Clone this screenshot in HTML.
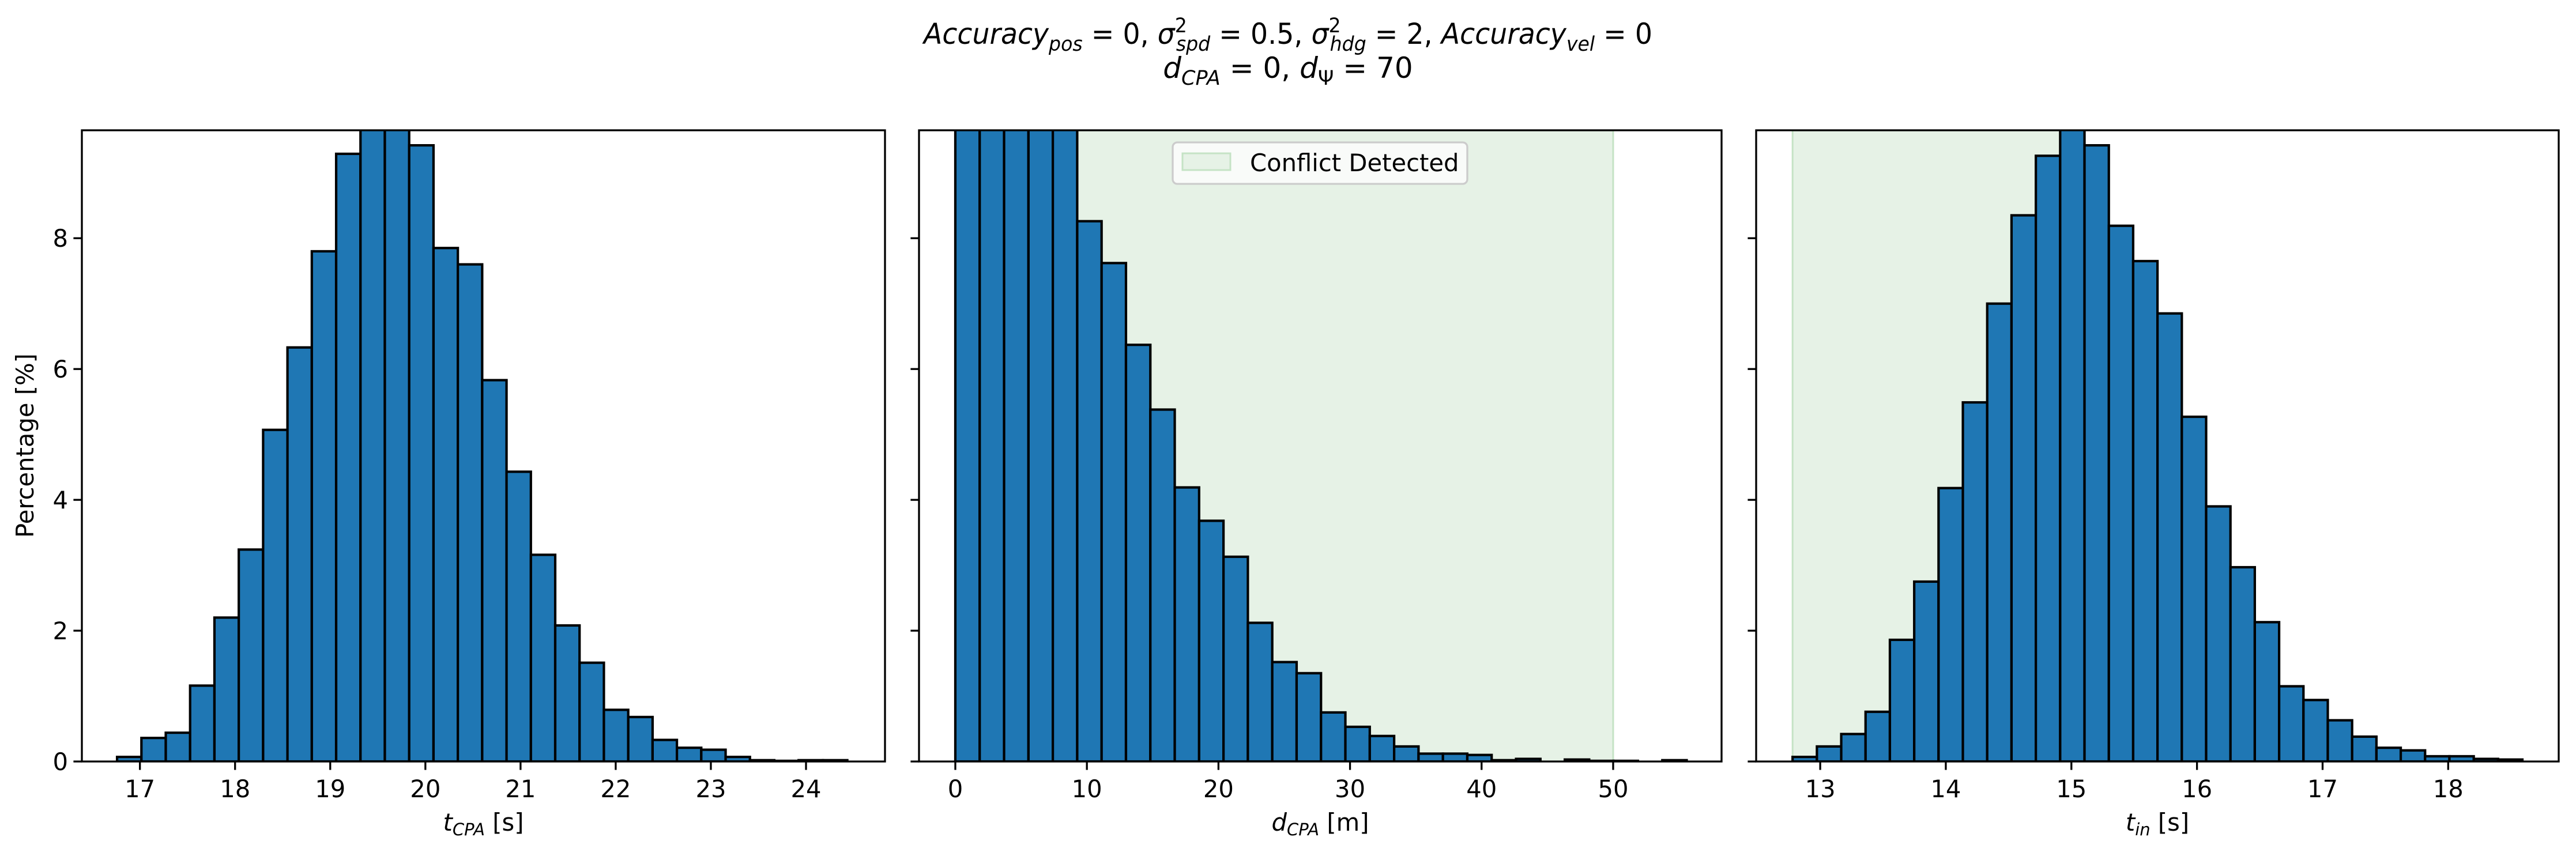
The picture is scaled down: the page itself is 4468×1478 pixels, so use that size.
<!DOCTYPE html>
<html><head><meta charset="utf-8">
<style>
html,body{margin:0;padding:0;background:#fff;}
svg{display:block;font-family:"DejaVu Sans","Liberation Sans",sans-serif;}
</style></head>
<body>
<svg id="fig" width="4468" height="1478" viewBox="0 0 4468 1478" xmlns="http://www.w3.org/2000/svg">
<rect width="4468" height="1478" fill="#fff"/>
<g font-size="50" text-anchor="middle" fill="#000">
<text x="2234" y="76" textLength="1264" lengthAdjust="spacingAndGlyphs"><tspan font-style="italic">Accuracy</tspan><tspan font-style="italic" font-size="35" dy="12">pos</tspan><tspan dy="-12"> = 0, </tspan><tspan font-style="italic">σ</tspan><tspan font-size="35" dy="-20">2</tspan><tspan font-style="italic" font-size="35" dx="-20" dy="32">spd</tspan><tspan dy="-12"> = 0.5, </tspan><tspan font-style="italic">σ</tspan><tspan font-size="35" dy="-20">2</tspan><tspan font-style="italic" font-size="35" dx="-20" dy="32">hdg</tspan><tspan dy="-12"> = 2, </tspan><tspan font-style="italic">Accuracy</tspan><tspan font-style="italic" font-size="35" dy="12">vel</tspan><tspan dy="-12"> = 0</tspan></text>
<text x="2234" y="135"><tspan font-style="italic">d</tspan><tspan font-style="italic" font-size="35" dy="12">CPA</tspan><tspan dy="-12"> = 0, </tspan><tspan font-style="italic">d</tspan><tspan font-size="35" dy="12">Ψ</tspan><tspan dy="-12"> = 70</tspan></text>
</g>
<text x="0" y="0" font-size="41.7" text-anchor="middle" transform="translate(58,773) rotate(-90)">Percentage [%]</text>
</svg>
<script>
// ---- data ----
const yTicks = [0, 2, 4, 6, 8];
const p1Start = 16.76, p1Width = 0.2558;
const p1Values = [0.07,0.36,0.44,1.16,2.20,3.24,5.07,6.33,7.80,9.29,9.9,9.9,9.42,7.85,7.60,5.83,4.43,3.16,2.08,1.51,0.79,0.68,0.33,0.21,0.18,0.07,0.02,0.01,0.02,0.02];
const p1Ticks = [17,18,19,20,21,22,23,24];
const p2Start = 0, p2Width = 1.853;
const p2Values = [13.5,12.6,11.8,11.0,10.3,8.26,7.62,6.37,5.38,4.19,3.68,3.13,2.12,1.52,1.35,0.75,0.53,0.39,0.23,0.12,0.12,0.10,0.02,0.04,0,0.03,0.01,0.01,0,0.02];
const p2Ticks = [0,10,20,30,40,50];
const p2Span = [0, 50];
const p3Start = 12.78, p3Width = 0.1937;
const p3Values = [0.07,0.23,0.42,0.76,1.86,2.75,4.18,5.49,7.00,8.35,9.26,9.7,9.42,8.19,7.65,6.85,5.27,3.90,2.97,2.13,1.15,0.94,0.63,0.38,0.21,0.17,0.08,0.08,0.04,0.03];
const p3Ticks = [13,14,15,16,17,18];
const p3Span = [12.78, 15.0];

const NS = "http://www.w3.org/2000/svg";
const svg = document.getElementById('fig');
const Y0 = 1321, YTOP = 226, YMAX = 9.65;
function yScale(v){ return Y0 - (v / YMAX) * (Y0 - YTOP); }
function mk(tag, attrs, parent){ const e = document.createElementNS(NS, tag); for (const k in attrs) e.setAttribute(k, attrs[k]); parent.appendChild(e); return e; }

function panel(cfg){
  const g = mk('g', {}, svg);
  
  
  const xs = v => cfg.left + (v - cfg.xmin) / (cfg.xmax - cfg.xmin) * (cfg.right - cfg.left);
  const clipId = 'clip-' + cfg.name;
  const defs = mk('defs', {}, g);
  const cp = mk('clipPath', {id: clipId}, defs);
  mk('rect', {x: cfg.left, y: YTOP, width: cfg.right - cfg.left, height: Y0 - YTOP}, cp);
  const inner = mk('g', {'clip-path': 'url(#' + clipId + ')'}, g);
  if (cfg.span){
    const s = mk('rect', {x: xs(cfg.span[0]), y: YTOP, width: xs(cfg.span[1]) - xs(cfg.span[0]), height: Y0 - YTOP, fill: '#e6f2e6', stroke: '#c5e3c5', 'stroke-width': 3}, inner);
    
    
  }
  cfg.values.forEach((v, i) => {
    const x0 = xs(cfg.start + i * cfg.width), x1 = xs(cfg.start + (i + 1) * cfg.width);
    const r = mk('rect', {x: x0, y: yScale(v), width: x1 - x0, height: Y0 - yScale(v), fill: '#1f77b4', stroke: '#000', 'stroke-width': 4.2}, inner);
    
    
  });
  const frame = mk('rect', {x: cfg.left, y: YTOP, width: cfg.right - cfg.left, height: Y0 - YTOP, fill: 'none', stroke: '#000', 'stroke-width': 3.3}, g);
  
  
  cfg.xticks.forEach(t => {
    const x = xs(t);
    mk('line', {x1: x, x2: x, y1: Y0, y2: Y0 + 14.6, stroke: '#000', 'stroke-width': 3.3}, g);
    const tx = mk('text', {x: x, y: Y0 + 62, 'font-size': 41.7, 'text-anchor': 'middle'}, g);
    
    
    tx.textContent = t;
  });
  yTicks.forEach(t => {
    const y = yScale(t);
    mk('line', {x1: cfg.left - 14.6, x2: cfg.left, y1: y, y2: y, stroke: '#000', 'stroke-width': 3.3}, g);
    if (cfg.ylabels){
      const tx = mk('text', {x: cfg.left - 24, y: y + 15, 'font-size': 41.7, 'text-anchor': 'end'}, g);
      
      
      tx.textContent = t;
    }
  });
  const xl = mk('text', {x: (cfg.left + cfg.right) / 2, y: 1441, 'font-size': 41.7, 'text-anchor': 'middle'}, g);
  
  
  const a = mk('tspan', {'font-style': 'italic'}, xl); a.textContent = cfg.xl[0];
  const b = mk('tspan', {'font-style': 'italic', 'font-size': 29, dy: 8}, xl); b.textContent = cfg.xl[1];
  const c = mk('tspan', {dy: -8}, xl); c.textContent = ' ' + cfg.xl[2];
  return xs;
}

panel({name: 'tcpa-histogram', left: 142, right: 1535, xmin: 16.39, xmax: 24.83, start: p1Start, width: p1Width, values: p1Values, xticks: p1Ticks, ylabels: true, xl: ['t', 'CPA', '[s]']});
panel({name: 'dcpa-histogram', left: 1594, right: 2986, xmin: -2.76, xmax: 58.24, start: p2Start, width: p2Width, values: p2Values, xticks: p2Ticks, span: p2Span, xl: ['d', 'CPA', '[m]']});
panel({name: 'tin-histogram', left: 3046, right: 4438, xmin: 12.49, xmax: 18.88, start: p3Start, width: p3Width, values: p3Values, xticks: p3Ticks, span: p3Span, xl: ['t', 'in', '[s]']});

// legend
const lg = mk('g', {}, svg);


mk('rect', {x: 2034, y: 247, width: 511, height: 72, rx: 8, fill: '#fcfdfc', 'fill-opacity': 0.85, stroke: '#cccccc', 'stroke-width': 3.3}, lg);
const sw = mk('rect', {x: 2051, y: 266, width: 83, height: 29, fill: '#e6f2e6', stroke: '#c5e3c5', 'stroke-width': 3}, lg);


const lt = mk('text', {x: 2168, y: 297, 'font-size': 41.7}, lg);


lt.textContent = 'Conflict Detected';
</script>
</body></html>
